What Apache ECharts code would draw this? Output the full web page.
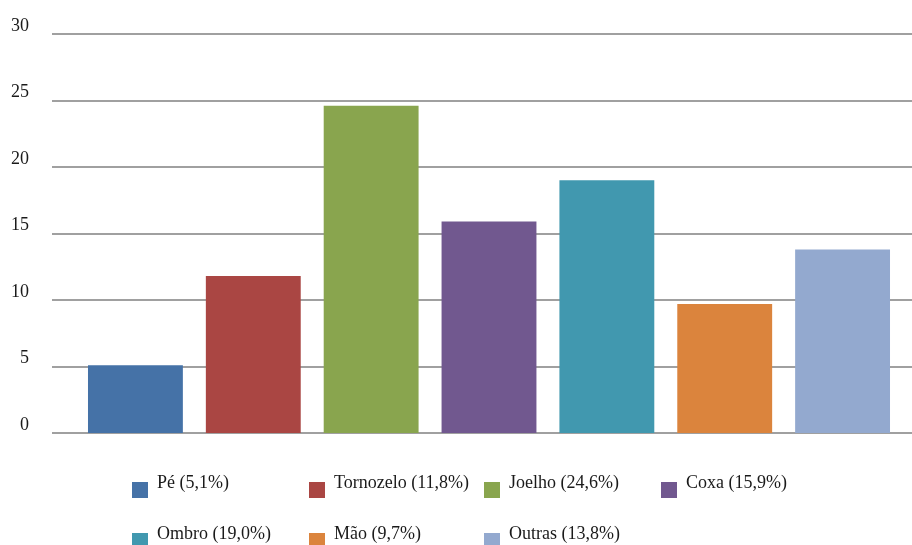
<!DOCTYPE html>
<html>
<head>
<meta charset="utf-8">
<script src="https://cdn.jsdelivr.net/npm/echarts@6/dist/echarts.min.js"></script>
<style>
  html, body { margin: 0; padding: 0; background: #fff; }
  #chart { width: 912px; height: 545px; }
</style>
</head>
<body>
<div id="chart"></div>
<script>
// Lesões por região do corpo (%)
const categories = ['Pé', 'Tornozelo', 'Joelho', 'Coxa', 'Ombro', 'Mão', 'Outras'];
const values = [5.1, 11.8, 24.6, 15.9, 19.0, 9.7, 13.8];
const colors = ['#4572A7', '#AA4643', '#89A54E', '#71588F', '#4198AF', '#DB843D', '#93A9CF'];
const yTicks = [0, 5, 10, 15, 20, 25, 30];

const FONT = 'Liberation Serif';

const legendNames = categories.map((c, i) =>
  c + ' (' + values[i].toFixed(1).replace('.', ',') + '%)');

// legend slot positions: two rows of up to four entries
const legendCols = [132, 309, 484, 661];
const legendRows = [474, 525];

const series = categories.map((c, i) => ({
  name: legendNames[i],
  type: 'bar',
  xAxisIndex: 1,
  yAxisIndex: 1,
  barGap: '-100%',
  barCategoryGap: '19.5%',
  itemStyle: { color: colors[i] },
  data: categories.map((_, j) => (j === i ? values[i] : '-'))
}));

const legends = legendNames.map((n, i) => ({
  data: [n],
  left: legendCols[i % 4],
  top: legendRows[Math.floor(i / 4)],
  padding: 0,
  itemWidth: 16,
  itemHeight: 16,
  icon: 'rect',
  selectedMode: false,
  formatter: '{t|{name}}',
  textStyle: {
    rich: {
      t: {
        fontFamily: FONT,
        fontSize: 18,
        lineHeight: 32,
        verticalAlign: 'top',
        color: '#1a1a1a',
        padding: [0, 0, 0, 4]
      }
    }
  }
}));

const chart = echarts.init(document.getElementById('chart'), null, { renderer: 'canvas' });
chart.setOption({
  animation: false,
  backgroundColor: '#fff',
  grid: [
    { left: 52, right: 0, top: 34, bottom: 112 },
    { left: 76.5, right: 10.5, top: 34, bottom: 112 }
  ],
  legend: legends,
  xAxis: [
    { type: 'category', gridIndex: 0, data: categories, show: false },
    { type: 'category', gridIndex: 1, data: categories, show: false }
  ],
  yAxis: [
    {
      type: 'value', gridIndex: 0, min: yTicks[0], max: yTicks[yTicks.length - 1], interval: 5,
      axisLine: { show: false }, axisTick: { show: false },
      splitLine: { lineStyle: { color: '#a0a0a0', width: 2 } },
      axisLabel: {
        fontFamily: FONT, fontSize: 18, color: '#1a1a1a', margin: 23,
        verticalAlign: 'bottom', padding: [0, 0, -1, 0]
      }
    },
    {
      type: 'value', gridIndex: 1, min: yTicks[0], max: yTicks[yTicks.length - 1], interval: 5,
      show: false, splitLine: { show: false }
    }
  ],
  series: series
});
</script>
</body>
</html>
